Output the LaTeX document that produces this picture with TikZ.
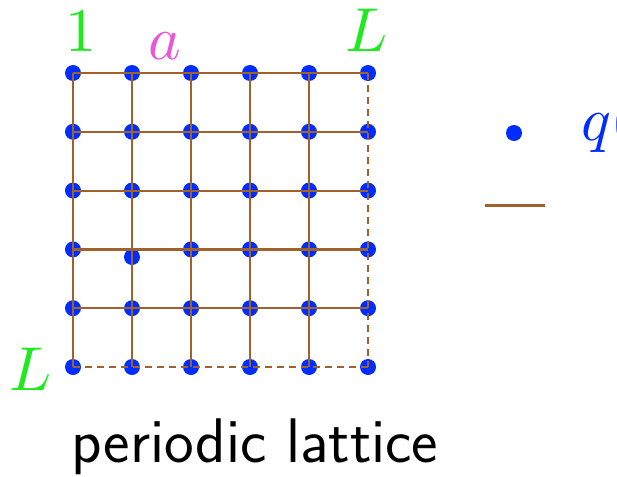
\documentclass[tikz,border=0pt]{standalone}
\usepackage{fontspec}
\usepackage{unicode-math}
\setmathfont{Latin Modern Math}
\definecolor{lbrown}{RGB}{160,98,45}
\definecolor{dblue}{RGB}{0,45,255}
\definecolor{lgreen}{RGB}{30,235,30}
\definecolor{lmag}{RGB}{235,85,220}
\tikzset{
  dot/.style={circle,fill=dblue,inner sep=0pt,minimum size=16pt},
  bond/.style={draw=lbrown,line width=2.2pt},
  pbond/.style={draw=lbrown,line width=2.2pt,dash pattern=on 7pt off 5pt},
  lbl/.style={inner sep=0pt,anchor=base,font=\fontsize{62}{62}\selectfont},
}
\begin{document}
\begin{tikzpicture}[x=1pt,y=-1pt]
\useasboundingbox (0,0) rectangle (617,476);
% grid points
\foreach \i in {1,...,6}{
  \foreach \j in {1,...,6}{
    \coordinate (g-\i-\j) at ({73+59*(\i-1)},{73+58.8*(\j-1)});
  }
}
% dots
\foreach \i in {1,...,6}{
  \foreach \j in {1,...,6}{
    \ifnum\i=2 \ifnum\j=4 \else \node[dot] (d-\i-\j) at (g-\i-\j) {};\fi
    \else \node[dot] (d-\i-\j) at (g-\i-\j) {};\fi
  }
}
\node[dot] (d-2-4) at (132,257) {};
% bonds
\foreach \j in {1,...,5}{ \draw[bond] (g-1-\j) -- (g-6-\j); }
\foreach \i in {1,...,5}{ \draw[bond] (g-\i-1) -- (g-\i-6); }
\draw[pbond] (g-6-1) -- (g-6-6);
\draw[pbond] (g-1-6) -- (g-6-6);
% labels
\node[lbl,text=lgreen] (one) at (80.5,52) {$1$};
\node[lbl,text=lmag] (a) at (165,60) {$a$};
\node[lbl,text=lgreen] (Ltop) at (367,52) {$L$};
\node[lbl,text=lgreen] (Lleft) at (31,390) {$L$};
% legend
\node[dot] (ldot) at (514,133) {};
\node[lbl,anchor=base west,text=dblue] (q) at (581,140) {$q($};
\coordinate (l1) at (485,205.5);
\coordinate (l2) at (545,205.5);
\draw[bond] (l1) -- (l2);
% title
\node[inner sep=0pt,anchor=base,font=\fontsize{63}{63}\selectfont\sffamily] (title) at (255,462) {periodic lattice};
\end{tikzpicture}
\end{document}
